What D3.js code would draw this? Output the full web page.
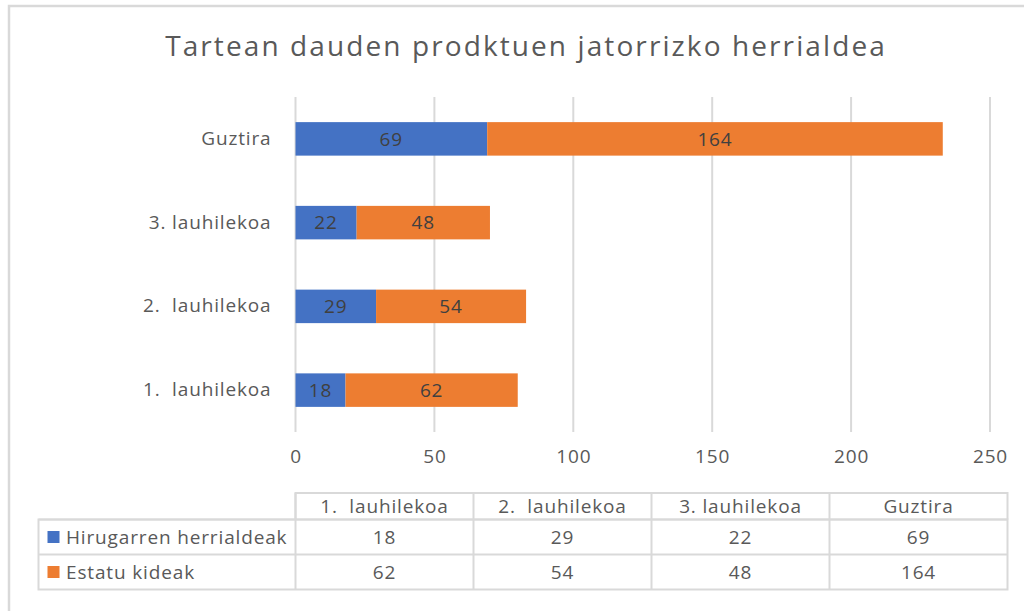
<!DOCTYPE html>
<html lang="eu">
<head>
    <meta charset="UTF-8">
    <title>Tartean dauden prodktuen jatorrizko herrialdea</title>
    <script src="https://d3js.org/d3.v7.min.js"></script>
    <style>
        body, html {
            margin: 0;
            padding: 0;
            background: #fff;
            overflow: hidden;
        }
        svg text {
            font-family: "Open Sans", Lato, sans-serif;
            letter-spacing: 0.85px;
        }
    </style>
</head>
<body>
    <svg id="chart" width="1024" height="611"></svg>

    <script>
        // data
        const categories = ["1.  lauhilekoa", "2.  lauhilekoa", "3. lauhilekoa", "Guztira"];
        const seriesNames = ["Hirugarren herrialdeak", "Estatu kideak"];
        const hirugarren = [18, 29, 22, 69];
        const estatu = [62, 54, 48, 164];
        const xTicks = [0, 50, 100, 150, 200, 250];
        const colors = ["#4472c4", "#ed7d31"];

        const fs = 19; // label font size

        const svg = d3.select("#chart");

        // outer chart border (cut by the picture on the right and bottom)
        svg.append("path")
            .attr("d", "M9,1200 L9,6 L1200,6")
            .attr("fill", "none")
            .attr("stroke", "#d9d9d9")
            .attr("stroke-width", 2.5);

        svg.append("text")
            .attr("x", 526)
            .attr("y", 56)
            .attr("text-anchor", "middle")
            .attr("font-size", 28)
            .attr("fill", "#595959")
            .style("letter-spacing", "2.1px")
            .text("Tartean dauden prodktuen jatorrizko herrialdea");

        const plotLeft = 295.5, plotRight = 990, plotTop = 97, plotBottom = 432;

        const x = d3.scaleLinear().domain([0, 250]).range([plotLeft, plotRight]);
        // Excel draws the first category at the bottom
        const y = d3.scaleBand()
            .domain(categories.slice().reverse())
            .range([plotTop, plotBottom])
            .paddingInner(0.6)
            .paddingOuter(0.3);

        // gridlines
        svg.append("g")
            .selectAll("line")
            .data(xTicks)
            .join("line")
            .attr("x1", d => x(d))
            .attr("x2", d => x(d))
            .attr("y1", plotTop)
            .attr("y2", plotBottom)
            .attr("stroke", "#d9d9d9")
            .attr("stroke-width", 2);

        // x axis labels
        const xAxis = svg.append("g")
            .attr("transform", `translate(0,${plotBottom})`)
            .call(d3.axisBottom(x).tickValues(xTicks).tickSize(0).tickPadding(18));
        xAxis.select(".domain").remove();
        xAxis.selectAll("text")
            .attr("font-size", fs)
            .attr("fill", "#595959")
            .style("font-family", "'Open Sans', sans-serif");

        // y axis labels
        const yAxis = svg.append("g")
            .attr("transform", `translate(${plotLeft},0)`)
            .call(d3.axisLeft(y).tickSize(0).tickPadding(24));
        yAxis.select(".domain").remove();
        yAxis.selectAll("text")
            .attr("font-size", fs)
            .attr("fill", "#595959")
            .style("font-family", "'Open Sans', sans-serif")
            .style("white-space", "pre");

        // stacked bars
        const rows = categories.map((c, i) => ({ cat: c, h: hirugarren[i], e: estatu[i] }));
        const stacked = d3.stack().keys(["h", "e"])(rows);

        const layers = svg.append("g")
            .selectAll("g")
            .data(stacked)
            .join("g")
            .attr("fill", (d, i) => colors[i]);

        layers.selectAll("rect")
            .data(d => d)
            .join("rect")
            .attr("x", d => x(d[0]))
            .attr("y", d => y(d.data.cat))
            .attr("width", d => x(d[1]) - x(d[0]))
            .attr("height", y.bandwidth());

        layers.selectAll("text")
            .data(d => d)
            .join("text")
            .attr("x", d => (x(d[0]) + x(d[1])) / 2)
            .attr("y", d => y(d.data.cat) + y.bandwidth() / 2)
            .attr("dy", "0.35em")
            .attr("text-anchor", "middle")
            .attr("font-size", fs)
            .attr("fill", "#404040")
            .text(d => d[1] - d[0]);

        // data table below the chart
        const tableLeft = 38.5, firstCol = 295.5, colW = 178;
        const headerTop = 493, headerBottom = 519.5, rowH = 35;
        const tableRight = firstCol + colW * categories.length;
        const tableBottom = headerBottom + rowH * seriesNames.length;
        const table = svg.append("g")
            .attr("stroke", "#d9d9d9")
            .attr("stroke-width", 2)
            .attr("fill", "none");

        // header box
        table.append("path")
            .attr("d", `M${firstCol},${headerBottom} L${firstCol},${headerTop} L${tableRight},${headerTop} L${tableRight},${headerBottom}`);
        // body box
        table.append("rect")
            .attr("x", tableLeft)
            .attr("y", headerBottom)
            .attr("width", tableRight - tableLeft)
            .attr("height", tableBottom - headerBottom);
        // row separators
        d3.range(0, seriesNames.length).forEach(i => {
            const yy = headerBottom + rowH * i;
            table.append("line")
                .attr("x1", tableLeft).attr("x2", tableRight)
                .attr("y1", yy).attr("y2", yy);
        });
        // column separators
        d3.range(0, categories.length).forEach(i => {
            const xx = firstCol + colW * i;
            table.append("line")
                .attr("x1", xx).attr("x2", xx)
                .attr("y1", headerTop).attr("y2", tableBottom);
        });

        const tableText = svg.append("g")
            .attr("font-size", fs)
            .attr("fill", "#595959");

        tableText.selectAll("text.head")
            .data(categories)
            .join("text")
            .attr("class", "head")
            .attr("x", (d, i) => firstCol + colW * i + colW / 2)
            .attr("y", (headerTop + headerBottom) / 2)
            .attr("dy", "0.35em")
            .attr("text-anchor", "middle")
            .style("white-space", "pre")
            .text(d => d);

        const seriesValues = [hirugarren, estatu];
        seriesNames.forEach((name, r) => {
            const cy = headerBottom + rowH * r + rowH / 2;
            svg.append("rect")
                .attr("x", 47.5)
                .attr("y", cy - 6)
                .attr("width", 12)
                .attr("height", 12)
                .attr("fill", colors[r]);
            tableText.append("text")
                .attr("x", 66)
                .attr("y", cy)
                .attr("dy", "0.35em")
                .text(name);
            tableText.selectAll(null)
                .data(seriesValues[r])
                .join("text")
                .attr("x", (d, i) => firstCol + colW * i + colW / 2)
                .attr("y", cy)
                .attr("dy", "0.35em")
                .attr("text-anchor", "middle")
                .text(d => d);
        });
    </script>
</body>
</html>
